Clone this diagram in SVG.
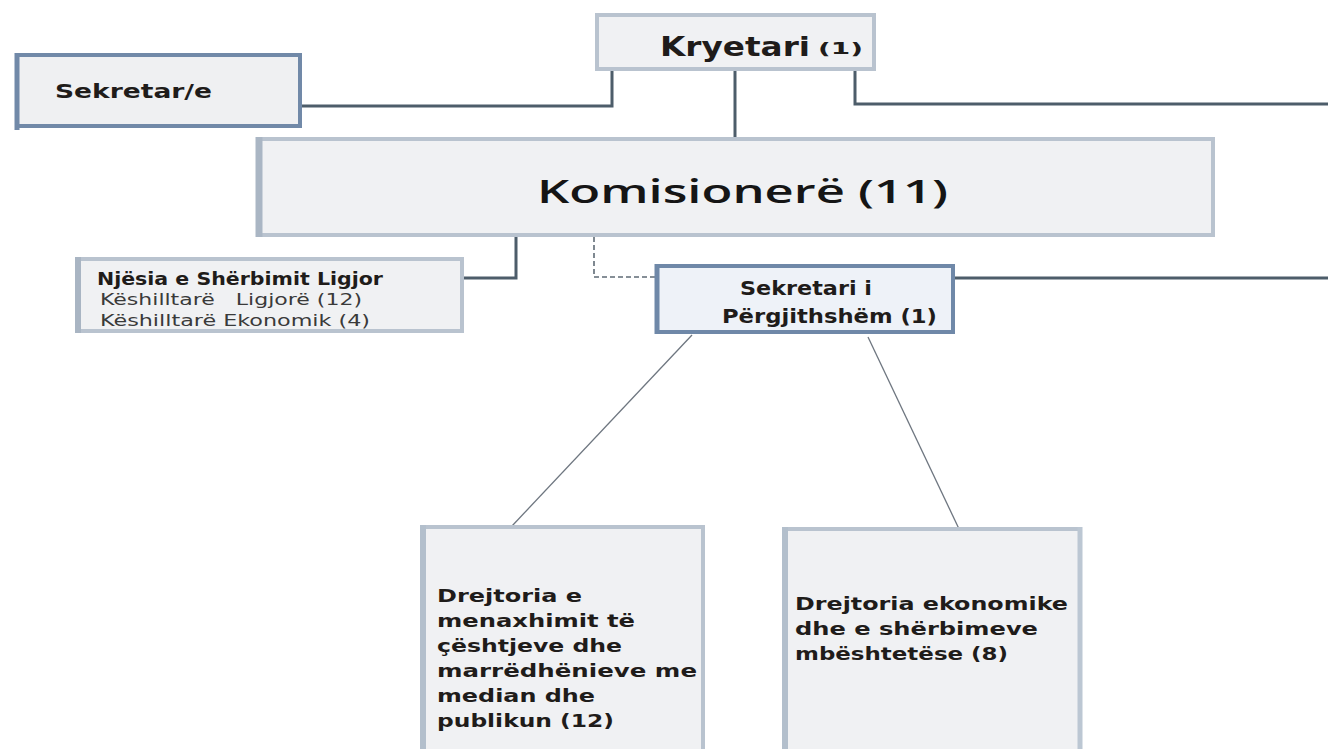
<svg xmlns="http://www.w3.org/2000/svg" width="1328" height="749" viewBox="0 0 1328 749">
<style>
.bg{fill:#ffffff}
.bl{stroke:#b9c3cf;stroke-width:4;fill:#f0f1f3}
.bd{stroke:#6f88a8;stroke-width:4;fill:#eef2f8}
.t{font-family:"DejaVu Sans",Verdana,sans-serif;fill:#1f1c1a}
.b{font-weight:bold}
.r{font-weight:normal;fill:#3a3a3a}
.cn{stroke:#4d5d6a;stroke-width:3;fill:none}
.dash{stroke:#5f6b76;stroke-width:1.6;fill:none;stroke-dasharray:5 3}
.thin{stroke:#6e7680;stroke-width:1.3;fill:none}
.k{font-family:"Open Sans","Noto Sans",sans-serif;font-weight:600;fill:#151515}
.bt{font-size:18.5px}
</style>
<rect class="bg" x="0" y="0" width="1328" height="749"/>
<g id="connectors">
<polyline class="cn" points="612,70 612,106 302,106"/>
<line class="cn" x1="735" y1="70" x2="735" y2="148"/>
<polyline class="cn" points="855,70 855,104 1328,104"/>
<polyline class="cn" points="516,237 516,278 463,278"/>
<polyline class="dash" points="594,237 594,277 656,277"/>
<line class="cn" x1="955" y1="278" x2="1328" y2="278"/>
<line class="thin" x1="692" y1="335" x2="512" y2="526"/>
<line class="thin" x1="868" y1="337" x2="960" y2="531"/>
</g>
<g id="sekretare">
<rect x="17" y="55" width="283" height="71" fill="#eff0f2" stroke="#7189a8" stroke-width="4"/>
<line x1="17" y1="53" x2="17" y2="130" stroke="#7189a8" stroke-width="5"/>
<text class="t b" x="55" y="98" font-size="20" textLength="157" lengthAdjust="spacingAndGlyphs">Sekretar/e</text>
</g>
<g id="kryetari">
<rect class="bl" x="597" y="15" width="277" height="54" stroke="#c4cbd4"/>
<text class="t b" x="660" y="56" font-size="26" fill="#2a1d14" textLength="150" lengthAdjust="spacingAndGlyphs">Kryetari</text>
<text class="t b" x="818" y="54" font-size="16" fill="#2a1d14" textLength="45" lengthAdjust="spacingAndGlyphs">(1)</text>
</g>
<g id="komisionere">
<rect class="bl" x="258" y="139" width="955" height="96" stroke="#bcc5d0" stroke-width="5"/>
<line x1="259" y1="137" x2="259" y2="237" stroke="#aab6c4" stroke-width="7"/>
<text class="k" x="537" y="203" font-size="32" textLength="411" lengthAdjust="spacingAndGlyphs">Komisionerë (11)</text>
</g>
<g id="njesia">
<rect class="bl" x="77" y="259" width="385" height="72" stroke="#bcc5d0"/>
<line x1="78" y1="257" x2="78" y2="333" stroke="#a9b5c3" stroke-width="6"/>
<text class="t b" x="97" y="285" font-size="17" textLength="286" lengthAdjust="spacingAndGlyphs">Njësia e Shërbimit Ligjor</text>
<text class="t r" x="100" y="305" font-size="16" xml:space="preserve" textLength="262" lengthAdjust="spacingAndGlyphs">Këshilltarë   Ligjorë (12)</text>
<text class="t r" x="100" y="326" font-size="16" textLength="270" lengthAdjust="spacingAndGlyphs">Këshilltarë Ekonomik (4)</text>
</g>
<g id="sekretari-pergjithshem">
<rect class="bd" x="657" y="266" width="296" height="66"/>
<line x1="657" y1="264" x2="657" y2="334" stroke="#6f88a8" stroke-width="5"/>
<text class="t b" x="740" y="295" font-size="19.5" fill="#3a302c" textLength="132" lengthAdjust="spacingAndGlyphs">Sekretari i</text>
<text class="t b" x="722" y="323" font-size="19.5" fill="#3a302c" textLength="215" lengthAdjust="spacingAndGlyphs">Përgjithshëm (1)</text>
</g>
<g id="drejtoria-menaxhimit">
<rect class="bl" x="422" y="527" width="281" height="240" stroke="#c0cad6"/>
<line x1="423" y1="525" x2="423" y2="749" stroke="#b3bfcc" stroke-width="6"/>
<text class="t b bt" x="437" y="602" textLength="145" lengthAdjust="spacingAndGlyphs">Drejtoria e</text>
<text class="t b bt" x="437" y="627" textLength="198" lengthAdjust="spacingAndGlyphs">menaxhimit të</text>
<text class="t b bt" x="437" y="652" textLength="185" lengthAdjust="spacingAndGlyphs">çështjeve dhe</text>
<text class="t b bt" x="437" y="677" textLength="260" lengthAdjust="spacingAndGlyphs">marrëdhënieve me</text>
<text class="t b bt" x="437" y="702" textLength="158" lengthAdjust="spacingAndGlyphs">median dhe</text>
<text class="t b bt" x="437" y="727" textLength="177" lengthAdjust="spacingAndGlyphs">publikun (12)</text>
</g>
<g id="drejtoria-ekonomike">
<rect class="bl" x="784" y="529" width="296" height="240" stroke="#c0cad6"/>
<line x1="785" y1="527" x2="785" y2="749" stroke="#b3bfcc" stroke-width="6"/>
<line x1="1080" y1="527" x2="1080" y2="749" stroke="#bcc7d3" stroke-width="5"/>
<text class="t b bt" x="795" y="610" textLength="273" lengthAdjust="spacingAndGlyphs">Drejtoria ekonomike</text>
<text class="t b bt" x="795" y="635" textLength="243" lengthAdjust="spacingAndGlyphs">dhe e shërbimeve</text>
<text class="t b bt" x="795" y="660" textLength="213" lengthAdjust="spacingAndGlyphs">mbështetëse (8)</text>
</g>
</svg>
